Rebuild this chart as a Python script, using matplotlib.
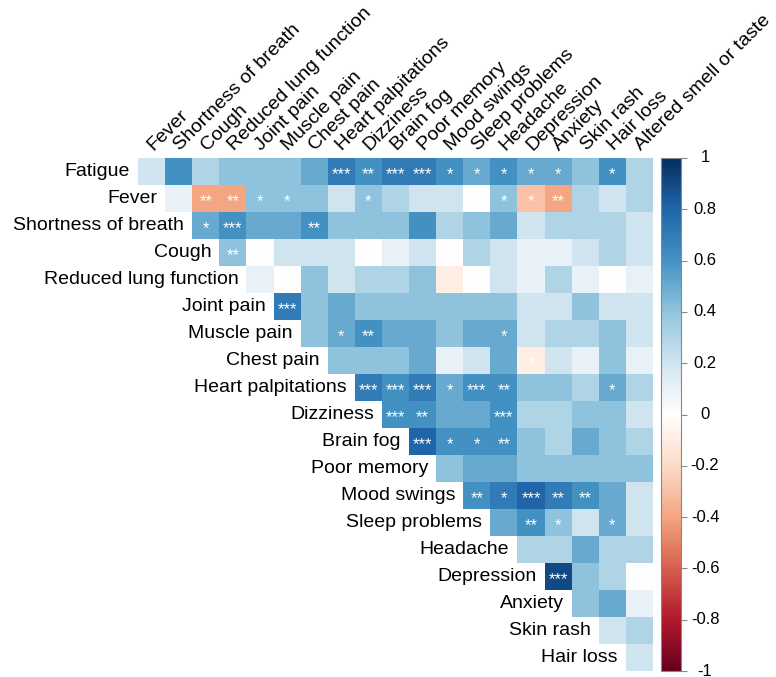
import matplotlib
matplotlib.use("Agg")
import matplotlib.pyplot as plt
import numpy as np
from matplotlib.colors import LinearSegmentedColormap, Normalize
from matplotlib.colorbar import ColorbarBase

plt.rcParams['font.family'] = ['Liberation Sans', 'DejaVu Sans']

labels = ["Fatigue", "Fever", "Shortness of breath", "Cough", "Reduced lung function",
          "Joint pain", "Muscle pain", "Chest pain", "Heart palpitations", "Dizziness",
          "Brain fog", "Poor memory", "Mood swings", "Sleep problems", "Headache",
          "Depression", "Anxiety", "Skin rash", "Hair loss", "Altered smell or taste"]

# upper triangle, row i holds correlations with labels[i+1:]
corr_rows = [
    [0.2, 0.6, 0.3, 0.4, 0.4, 0.4, 0.5, 0.7, 0.6, 0.7, 0.7, 0.6, 0.5, 0.6, 0.5, 0.5, 0.4, 0.6, 0.3],
    [0.1, -0.4, -0.4, 0.4, 0.4, 0.4, 0.2, 0.4, 0.3, 0.2, 0.2, 0.0, 0.4, -0.3, -0.4, 0.3, 0.2, 0.3],
    [0.5, 0.6, 0.5, 0.5, 0.6, 0.4, 0.4, 0.4, 0.6, 0.3, 0.4, 0.5, 0.2, 0.3, 0.3, 0.3, 0.2],
    [0.4, 0.0, 0.2, 0.2, 0.2, 0.0, 0.1, 0.2, 0.0, 0.3, 0.2, 0.1, 0.1, 0.2, 0.3, 0.2],
    [0.1, 0.0, 0.4, 0.2, 0.3, 0.3, 0.4, -0.1, 0.0, 0.2, 0.1, 0.3, 0.1, 0.0, 0.1],
    [0.7, 0.4, 0.5, 0.4, 0.4, 0.4, 0.4, 0.4, 0.4, 0.2, 0.2, 0.4, 0.2, 0.2],
    [0.4, 0.5, 0.6, 0.5, 0.5, 0.4, 0.5, 0.5, 0.2, 0.3, 0.3, 0.4, 0.2],
    [0.4, 0.4, 0.4, 0.5, 0.1, 0.2, 0.5, -0.1, 0.2, 0.1, 0.4, 0.1],
    [0.7, 0.6, 0.7, 0.5, 0.6, 0.6, 0.4, 0.4, 0.3, 0.5, 0.3],
    [0.6, 0.6, 0.5, 0.5, 0.6, 0.3, 0.3, 0.4, 0.4, 0.2],
    [0.8, 0.6, 0.6, 0.6, 0.4, 0.3, 0.5, 0.4, 0.3],
    [0.4, 0.5, 0.5, 0.4, 0.4, 0.4, 0.4, 0.4],
    [0.6, 0.7, 0.8, 0.7, 0.6, 0.5, 0.2],
    [0.5, 0.6, 0.4, 0.2, 0.5, 0.2],
    [0.3, 0.3, 0.5, 0.3, 0.3],
    [0.9, 0.4, 0.3, 0.0],
    [0.4, 0.5, 0.1],
    [0.2, 0.3],
    [0.2],
]

star_rows = [
    ["", "", "", "", "", "", "", "***", "**", "***", "***", "*", "*", "*", "*", "*", "", "*", ""],
    ["", "**", "**", "*", "*", "", "", "*", "", "", "", "", "*", "*", "**", "", "", ""],
    ["*", "***", "", "", "**", "", "", "", "", "", "", "", "", "", "", "", ""],
    ["**", "", "", "", "", "", "", "", "", "", "", "", "", "", "", ""],
    ["", "", "", "", "", "", "", "", "", "", "", "", "", "", ""],
    ["***", "", "", "", "", "", "", "", "", "", "", "", "", ""],
    ["", "*", "**", "", "", "", "", "*", "", "", "", "", ""],
    ["", "", "", "", "", "", "", "*", "", "", "", ""],
    ["***", "***", "***", "*", "***", "**", "", "", "", "*", ""],
    ["***", "**", "", "", "***", "", "", "", "", ""],
    ["***", "*", "*", "**", "", "", "", "", ""],
    ["", "", "", "", "", "", "", ""],
    ["**", "*", "***", "**", "**", "", ""],
    ["", "**", "*", "", "*", ""],
    ["", "", "", "", ""],
    ["***", "", "", ""],
    ["", "", ""],
    ["", ""],
    [""],
]

n = len(labels) - 1
M = np.full((n, n), np.nan)
for i, row in enumerate(corr_rows):
    for k, v in enumerate(row):
        M[i, i + k] = v

cmap = LinearSegmentedColormap.from_list(
    "corr", ["#67001F", "#B2182B", "#D6604D", "#F4A582", "#FDDBC7", "#FFFFFF",
             "#D1E5F0", "#92C5DE", "#4393C3", "#2166AC", "#053061"], N=200)
norm = Normalize(-1, 1)

W, H = 776, 677
fig = plt.figure(figsize=(W / 100, H / 100), dpi=100)
ax = fig.add_axes([138 / W, 6 / H, 515 / W, 513 / H])
ax.pcolormesh(np.arange(n + 1), np.arange(n + 1), np.ma.masked_invalid(M),
              cmap=cmap, norm=norm)
ax.set_xlim(0, n)
ax.set_ylim(n, 0)
ax.axis('off')

for i in range(n):
    ax.text(i - 0.3, i + 0.5, labels[i], ha='right', va='center', fontsize=14)
    ax.text(i + 0.55, -0.25, labels[i + 1], ha='left', va='baseline', fontsize=14,
            rotation=45, rotation_mode='anchor', clip_on=False)
    for k, s in enumerate(star_rows[i]):
        if s:
            ax.text(i + k + 0.5, i + 0.6, s, ha='center', va='center',
                    fontsize=12, color='white')

cax = fig.add_axes([661 / W, 6 / H, 20 / W, 513 / H])
cb = ColorbarBase(cax, cmap=cmap, norm=norm)
cb.outline.set_edgecolor('#888888')
ticks = np.round(np.arange(-1, 1.01, 0.2), 1)
cb.set_ticks(ticks)
cb.set_ticklabels([])
cax.tick_params(length=4, color='#888888')
for t in ticks:
    lab = "0" if t == 0 else ("%g" % t)
    cax.text(2.2, t, lab, ha='center', va='center', fontsize=12,
             transform=cax.get_yaxis_transform(), clip_on=False)

fig.savefig("out.png", dpi=100)
